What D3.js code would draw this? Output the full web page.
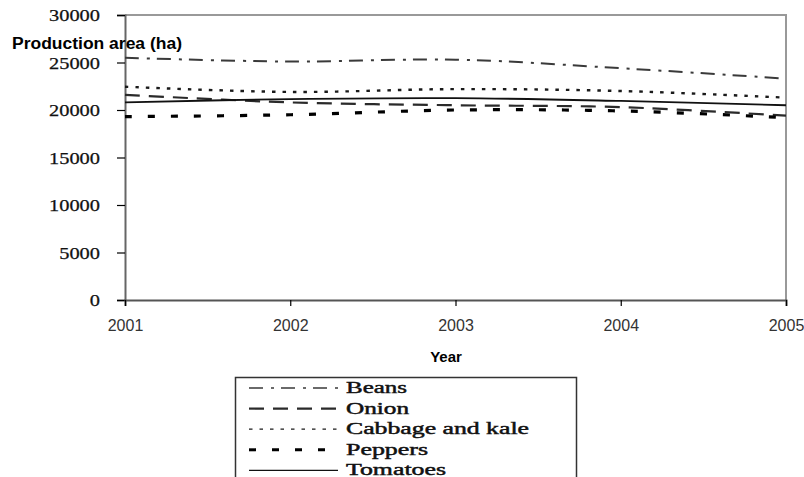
<!DOCTYPE html>
<html>
<head>
<meta charset="utf-8">
<script src="https://cdn.jsdelivr.net/npm/d3@7"></script>
<style>
  html, body { margin: 0; padding: 0; background: #fff; }
  svg { display: block; }
</style>
</head>
<body>
<svg id="chart" width="804" height="477"></svg>
<script>
// Production area (ha) per crop, 2001–2005
const years = [2001, 2002, 2003, 2004, 2005];
const beans    = [25500, 25100, 25300, 24400, 23300];
const onion    = [21600, 20800, 20500, 20300, 19400];
const cabbage  = [22450, 21900, 22200, 22000, 21300];
const peppers  = [19300, 19500, 20000, 19900, 19200];
const tomatoes = [20800, 21150, 21250, 20950, 20500];
const yTicks = [0, 5000, 10000, 15000, 20000, 25000, 30000];
const seriesNames = ["Beans", "Onion", "Cabbage and kale", "Peppers", "Tomatoes"];

const styles = {
  "Beans":            { color: "#3a3a3a", width: 2,   dash: "14,8,3,7" },
  "Onion":            { color: "#2a2a2a", width: 2.2, dash: "15,9" },
  "Cabbage and kale": { color: "#1a1a1a", width: 2.4, dash: "3.5,7" },
  "Peppers":          { color: "#000",    width: 3.2, dash: "7,16" },
  "Tomatoes":         { color: "#111",    width: 1.8, dash: null }
};
const values = {
  "Beans": beans, "Onion": onion, "Cabbage and kale": cabbage,
  "Peppers": peppers, "Tomatoes": tomatoes
};

const svg = d3.select("#chart");
const x = d3.scaleLinear().domain([2001, 2005]).range([125, 786]);
const y = d3.scaleLinear().domain([0, 30000]).range([300, 15]);

// plot frame (top and right edges)
svg.append("path")
  .attr("d", `M${x(2001)},${y(30000)}H${x(2005)}V${y(0)}`)
  .attr("fill", "none").attr("stroke", "#999").attr("stroke-width", 2);

// y axis
const yAxis = svg.append("g")
  .attr("transform", `translate(${x(2001)},0)`)
  .call(d3.axisLeft(y).tickValues(yTicks).tickSize(8).tickPadding(17).tickFormat(d3.format("d")));
yAxis.select(".domain").attr("stroke", "#666").attr("stroke-width", 2);
yAxis.selectAll(".tick line").attr("stroke", "#000").attr("stroke-width", 1.2);
yAxis.selectAll(".tick text")
  .attr("font-family", "'Liberation Serif', 'Times New Roman', serif")
  .attr("font-size", 17).attr("fill", "#111")
  .attr("stroke", "#111").attr("stroke-width", 0.25)
  .attr("dy", "0.34em")
  .each(function(d) {
    const s = String(d);
    d3.select(this).attr("textLength", s.length * 10.2).attr("lengthAdjust", "spacingAndGlyphs");
  });

// x axis
const xAxis = svg.append("g")
  .attr("transform", `translate(0,${y(0)})`)
  .call(d3.axisBottom(x).tickValues(years).tickSize(6).tickPadding(14).tickFormat(d3.format("d")));
xAxis.select(".domain").attr("stroke", "#555").attr("stroke-width", 2);
xAxis.selectAll(".tick line").attr("stroke", "#000").attr("stroke-width", 1.2);
xAxis.selectAll(".tick text")
  .attr("font-family", "'Liberation Sans', Arial, sans-serif")
  .attr("font-size", 16).attr("fill", "#333");

// axis titles
svg.append("text")
  .attr("x", 12).attr("y", 49)
  .attr("font-family", "'Liberation Sans', Arial, sans-serif")
  .attr("font-weight", "bold").attr("font-size", 16).attr("fill", "#000")
  .attr("textLength", 170).attr("lengthAdjust", "spacingAndGlyphs")
  .text("Production area (ha)");
svg.append("text")
  .attr("x", 446).attr("y", 362).attr("text-anchor", "middle")
  .attr("font-family", "'Liberation Sans', Arial, sans-serif")
  .attr("font-weight", "bold").attr("font-size", 15).attr("fill", "#000")
  .text("Year");

// smoothed series lines
const line = d3.line()
  .x((d, i) => x(years[i]))
  .y(d => y(d))
  .curve(d3.curveCatmullRom.alpha(0.5));

seriesNames.forEach(name => {
  const st = styles[name];
  svg.append("path")
    .datum(values[name])
    .attr("d", line)
    .attr("fill", "none")
    .attr("stroke", st.color)
    .attr("stroke-width", st.width)
    .attr("stroke-dasharray", st.dash);
});

// legend
const lg = svg.append("g");
lg.append("rect")
  .attr("x", 235.5).attr("y", 377.5).attr("width", 341).attr("height", 110)
  .attr("fill", "#fff").attr("stroke", "#333").attr("stroke-width", 1.5);
const textLen = { "Beans": 61, "Onion": 63, "Cabbage and kale": 183, "Peppers": 82, "Tomatoes": 100 };
const legendLine = { "Beans": 1.3, "Onion": 2.2, "Cabbage and kale": 1.2, "Peppers": 3, "Tomatoes": 1.3 };
seriesNames.forEach((name, i) => {
  const cy = 388 + i * 20.6;
  const st = styles[name];
  lg.append("line")
    .attr("x1", 249).attr("x2", 338).attr("y1", cy).attr("y2", cy)
    .attr("stroke", st.color).attr("stroke-width", legendLine[name])
    .attr("stroke-dasharray", st.dash);
  lg.append("text")
    .attr("x", 346).attr("y", cy + 5)
    .attr("font-family", "'Liberation Serif', 'Times New Roman', serif")
    .attr("font-size", 16).attr("fill", "#111")
    .attr("stroke", "#111").attr("stroke-width", 0.45)
    .attr("textLength", textLen[name]).attr("lengthAdjust", "spacingAndGlyphs")
    .text(name);
});
</script>
</body>
</html>
